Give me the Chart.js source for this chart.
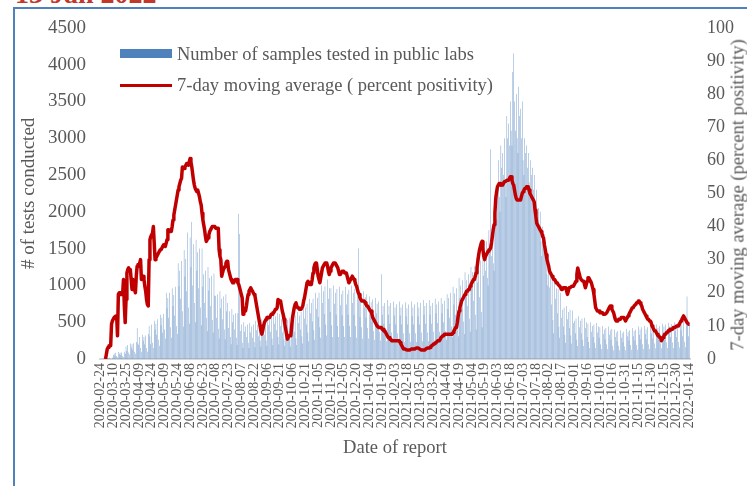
<!DOCTYPE html>
<html>
<head>
<meta charset="utf-8">
<script src="https://cdn.jsdelivr.net/npm/chart.js@4/dist/chart.umd.min.js"></script>
<style>
  body { margin: 0; background: #fff; }
  #wrap { position: relative; width: 747px; height: 486px; overflow: hidden;
    font-family: 'Liberation Serif', 'Times New Roman', serif; color: #595959; }
  #frame { position: absolute; left: 13px; top: 7px; width: 760px; height: 500px;
    border-left: 2px solid #4f81bd; border-top: 2px solid #4f81bd; }
  #title { position: absolute; left: 15px; top: -20px; font-size: 28px; line-height: 28px;
    font-weight: bold; color: #c0392b; white-space: nowrap; }
  #chart { position: absolute; left: 0; top: 0; }
  .sw { position: absolute; left: 120px; width: 52px; }
  .lgtxt { position: absolute; left: 177px; font-size: 18.5px; line-height: 20px; white-space: nowrap; }
  #y1title { position: absolute; left: 738px; top: 195px; font-size: 18.5px; white-space: nowrap;
    transform: translate(-50%, -50%) rotate(-90deg); }
</style>
</head>
<body>
<div id="wrap">
  <div id="title">13 Jan 2022</div>
  <div id="frame"></div>
  <canvas id="chart" width="747" height="486"></canvas>
  <div class="sw" style="top:49px;height:9px;background:#4f81bd"></div>
  <div class="lgtxt" style="top:44px">Number of samples tested in public labs</div>
  <div class="sw" style="top:84px;height:3px;background:#c00000"></div>
  <div class="lgtxt" style="top:75px">7-day moving average ( percent positivity)</div>
  <div id="y1title">7-day moving average (percent positivity)</div>
</div>
<script>
// daily series, first day 2020-02-24
const START_DATE = Date.UTC(2020, 1, 24)

// samples tested per day (public labs), 15 days per row
const testsPerDay = [
  0,0,5,2,8,3,2,12,9,14,8,16,7,4,22,
  55,75,45,85,40,25,95,70,85,55,90,40,28,100,70,
  170,110,190,90,60,210,160,200,130,215,100,70,230,420,210,
  190,300,150,100,330,250,300,200,320,150,100,340,450,310,200,
  470,220,150,520,400,480,330,540,260,180,600,460,560,360,610,
  400,280,900,690,830,560,900,430,290,960,720,870,590,980,450,
  340,1300,990,1200,820,1330,650,440,1480,1120,1360,920,1720,700,480,
  1650,1250,1860,1000,1560,760,500,1620,1200,1450,960,1500,700,460,1500,
  980,1150,760,1200,560,380,1250,930,1100,720,1130,530,360,1160,860,
  860,560,880,410,280,920,690,820,540,850,400,270,880,650,760,
  420,650,300,200,680,500,600,400,620,290,190,620,1970,1700,380,
  470,220,150,500,370,440,300,470,220,150,490,360,440,290,470,
  230,160,520,390,470,310,520,250,170,540,400,490,330,540,250,
  180,600,460,560,370,590,280,190,640,480,580,390,630,300,200,
  610,450,540,360,570,270,180,590,440,530,350,560,270,170,580,
  460,560,370,590,280,190,640,490,590,400,640,310,210,720,550,
  700,470,750,360,240,820,620,760,510,820,390,260,900,680,830,
  570,900,430,290,1000,760,920,610,990,470,320,1080,820,960,640,
  960,460,300,1000,750,900,600,950,450,300,980,730,880,590,930,
  450,300,980,740,880,600,940,450,300,1000,760,900,600,950,450,
  290,940,1500,860,570,900,430,280,920,700,840,560,880,420,280,
  850,640,770,510,810,380,260,830,620,750,500,780,370,250,1150,
  600,720,480,760,360,240,800,600,720,480,760,360,240,780,590,
  700,470,740,350,230,780,590,700,470,740,350,230,770,580,690,
  470,740,350,230,780,580,700,470,740,350,230,770,580,700,470,
  760,360,240,800,600,720,480,760,360,240,800,600,720,480,760,
  370,250,820,620,740,490,780,370,250,830,620,750,500,790,380,
  260,880,680,830,560,900,440,300,980,740,890,600,960,470,310,
  1100,830,1000,670,1070,510,340,1180,890,1070,720,1150,550,370,1250,
  980,1180,790,1260,600,400,1380,1040,1250,840,1340,640,430,1500,1130,
  1500,1200,1600,1100,1000,1750,1500,2850,1400,1800,1300,1200,2000,1800,1900,
  2300,2700,2200,2000,2900,2600,2800,2500,3000,2400,2200,3300,3000,3200,2900,
  3500,3100,2900,3900,4150,3500,3100,3600,3000,2800,3700,3300,3400,3000,3500,
  2700,2500,3000,2800,2900,2600,2800,2400,2200,2700,2500,2600,2300,2500,2100,
  1900,2300,2000,2050,1800,2000,1600,1400,1800,1600,1700,1350,1500,1150,1000,
  1300,970,1150,740,1150,530,350,1100,820,960,620,950,440,290,900,
  560,670,440,700,330,220,720,540,640,420,670,320,210,660,490,
  520,350,550,260,175,580,430,520,350,550,260,175,560,420,500,
  300,480,230,150,500,370,450,300,470,220,150,490,360,440,290,
  430,200,135,450,340,400,270,420,200,135,440,330,390,260,410,
  180,120,400,300,360,240,380,180,120,390,290,350,230,370,170,
  120,410,310,370,250,390,190,125,420,310,380,250,400,190,125,
  440,330,400,270,430,200,135,450,340,400,270,430,200,135,450,
  350,420,280,450,215,145,470,350,420,280,450,215,145,480,360,
  440,290,470,225,150,490,370,440,300,475,225,150,500,375,450,
  300,490,230,155,520,390,470,310,500,235,160,520,850,470,310,
  490,
]

// 7-day moving average of percent positivity, 15 days per row
const positivity = [
  null,null,null,null,null,null,0,1.5,3,3.5,4,4,4,10.5,11.5,
  12,12.5,12.5,13,13,7,19.5,20,20,19.5,19.5,19.5,24,16,11,
  18,26,27,27.5,27,27,24,21,24,23,21,20,25,28,28.5,
  28,29,30,24,24.5,25,24,22,20.5,18,16.5,16,30,36,37,
  37.5,38,40,35,30,30.5,31,31.5,32,32.5,33,33,33,34,34.5,
  34.5,34,35,36,39,39,38.5,38.5,38.5,40,42,43.5,45,46.5,48,
  49.5,51,52,53,54,54.5,58,57.5,57.5,58,58.5,59,59,58.5,59.5,
  60.5,59.5,58,56,54,52.5,51.5,51,50.5,51,50,49,47.5,46.5,44,
  42,40.5,39,37,35.5,36,36.5,37.5,38.5,39,39.5,40,40,40,40,
  39.5,39.5,39.5,39.5,33,31,30,25,26,27,27.5,28,29,29.5,29.5,
  27,26,25,24,23.5,23,23,23.5,24,24,24,23,22.5,21.5,20.5,
  19.5,18.5,13.5,14,14.5,14.5,16,18,19.5,20.5,21,21.5,21,20.5,20,
  19.5,19,17.5,16,14.5,13,11.5,10,8.5,7.5,8.5,10,11,11.5,12,
  12.5,12.5,12.5,12.5,13,13.5,13.5,14,14,14.5,15,15,15.5,18,18,
  17.5,17.5,16,14.5,13.5,12,10.5,9,7.5,6,6.5,7,7,7,10,
  12.5,14,15.5,16.5,17,16,15.5,15.5,15,15,15,15,16,17.5,18.5,
  20,21.5,23,23.5,23,22.5,23,22.5,24,26,27.5,28.5,29,29,27,
  25,24,23,24.5,26,27.5,28,28.5,29,29,29,28,26.5,25.5,26.5,
  27.5,28,28.5,29,29,29,28.5,28.5,27.5,26.5,25.5,25.5,26,26.5,26.5,
  26.5,26,26,26,25,24,23,23.5,24,24.5,25,24.5,24,23.5,22.5,
  22,21,20,19.5,18.5,18,17.5,17.5,17.5,17.5,17,16.5,16,16,15.5,
  15,14.5,14.5,13.5,12.5,12,11.5,11,10.5,10,10,9.5,9.5,9.5,9.5,
  9,9,8.5,8.5,8,7.5,7,6.5,6.5,6,6,5.5,5.5,5.5,5.5,
  5.5,5.5,5.5,5.5,5.5,5.5,5,4.5,4,3.5,3,3,3,2.8,2.8,
  2.7,2.7,2.7,2.8,3,3,3,3,3,3.2,3.3,3.3,3.3,3.3,3,
  2.8,2.7,2.7,2.7,2.7,2.8,3,3.2,3.3,3.3,3.3,3.5,3.8,4,4.2,
  4.5,4.5,4.8,5,5.2,5.5,5.5,5.5,6,6.5,6.5,7,7,7.5,7.5,
  7.5,7.5,7.5,7.5,7.5,7.5,7.5,7.5,8,8.5,9,9.5,9.5,11,13,
  14.5,15.5,16.5,17.5,18,18.5,19,19.5,20,20.5,20.5,21,21,22,22.5,
  23,23.5,24,24,25,26,27.5,29.5,31.5,33,34,35,35.5,33,31,
  30,31,31.5,32,32.5,33,33,33.5,35,37,39,40.5,44,48.5,50.5,
  52,52.5,53,53,52.5,52.5,52.5,53,53.5,53.5,53.5,54,54,54,54.5,
  55,55,54,53,52.5,51,49.5,48.5,48,48,48,48,48,49,50,
  50.5,51,51.5,51.5,52,52,52,51,50,49.5,49,48.5,48,47.5,45,
  43,41,40.5,40,39.5,39,38.5,38,37,36.5,34.5,33,31.5,30,29,
  28,26.5,26,25.5,25,24.5,24,24,23.5,23,23,22.5,22.5,22,21.5,
  21,21,21.5,21.5,21.5,21.5,20.5,19.5,20.5,21.5,21.5,21.5,22,22,22,
  22.5,23,23.5,25.5,27.5,26.5,25.5,24.5,24,24,23.5,23.5,22.5,21.5,22.5,
  23.5,24.5,24.5,24,23.5,23,22,21,19.5,17.5,15.5,15,14.5,14.5,14.5,
  14,14,14,14,13.5,13.5,13.5,13.5,14,14.5,15,15.5,16,16,15,
  14.5,14,13,12,11.5,11.5,11.5,12,12,12,12.5,12.5,12.5,12.5,12,
  11.5,12,12.5,13,13.5,14,14.5,15,15.5,15.5,16,16,16.5,17,17,
  17.5,17.5,17,16.5,16,15,14.5,14,13.5,13,12.5,12,12,11.5,11.5,
  11,10,9.5,9,8.5,8.5,8,7.5,7,7,6.5,6.5,5.5,6,6.5,
  7,7.5,7.5,8,8,8.5,8.5,9,9,9,9,9.5,9.5,9.5,9.5,
  10,10,10,10.5,11,11.5,12,12.5,13,12.5,12,11.5,11,11,10.5,
  10.5,
]

// tick settings
const TICK_EVERY = 15
const Y_TICKS = { min: 0, max: 4500, step: 500 }
const Y1_TICKS = { min: 0, max: 100, step: 10 }

const dates = testsPerDay.map((_, i) =>
  new Date(START_DATE + i * 86400000).toISOString().slice(0, 10))

const FONT = "'Liberation Serif', 'Times New Roman', serif"
const GREY = '#595959'

const main = () => {
  const chartConfig = {
    type: 'bar',
    data: {
      labels: dates,
      datasets: [
        {
          type: 'line',
          label: '7-day moving average ( percent positivity)',
          data: positivity,
          yAxisID: 'y1',
          borderColor: '#c00000',
          borderWidth: 3.5,
          pointRadius: 0,
          tension: 0,
          borderJoinStyle: 'round',
        },
        {
          label: 'Number of samples tested in public labs',
          data: testsPerDay,
          yAxisID: 'y',
          backgroundColor: '#4f81bd',
          barPercentage: 0.45,
          categoryPercentage: 1,
        },
      ],
    },
    options: {
      responsive: false,
      animation: false,
      layout: { padding: { left: 14, right: 0, top: 27, bottom: 23 } },
      plugins: { legend: { display: false }, tooltip: { enabled: false } },
      scales: {
        x: {
          grid: { display: false, drawTicks: false },
          border: { color: '#d9d9d9', width: 2 },
          ticks: {
            autoSkip: false,
            minRotation: 90,
            maxRotation: 90,
            padding: 4,
            color: GREY,
            font: { family: FONT, size: 14 },
            callback: (v, i) => (i % TICK_EVERY === 0 ? dates[i] : ''),
          },
          title: { display: true, text: 'Date of report', color: GREY, font: { family: FONT, size: 18.5 } },
          afterFit: s => { s.height = 104 },
        },
        y: {
          position: 'left',
          min: Y_TICKS.min,
          max: Y_TICKS.max,
          grid: { display: false, drawTicks: false },
          border: { display: false },
          ticks: {
            stepSize: Y_TICKS.step,
            padding: 14,
            color: GREY,
            font: { family: FONT, size: 19 },
            callback: v => String(v),
          },
          title: { display: true, text: '# of tests conducted', color: GREY, font: { family: FONT, size: 19 } },
          afterFit: s => { s.width = 86 },
        },
        y1: {
          position: 'right',
          min: Y1_TICKS.min,
          max: Y1_TICKS.max,
          grid: { display: false, drawTicks: false },
          border: { display: false },
          ticks: {
            stepSize: Y1_TICKS.step,
            padding: 17,
            color: GREY,
            font: { family: FONT, size: 18 },
            callback: v => String(v),
          },
          afterFit: s => { s.width = 57 },
        },
      },
    },
  }

  new Chart(document.querySelector('#chart'), chartConfig)
}

window.addEventListener('load', main)
</script>
</body>
</html>
